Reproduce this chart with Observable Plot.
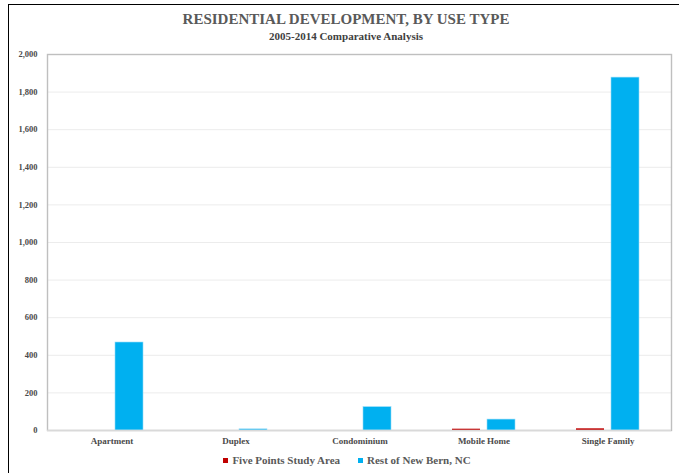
<!DOCTYPE html>
<html>
<head>
<meta charset="utf-8">
<script src="https://cdn.jsdelivr.net/npm/d3@7"></script>
<script src="https://cdn.jsdelivr.net/npm/@observablehq/plot@0.6"></script>
<style>
  html, body { margin: 0; padding: 0; background: #fff; overflow: hidden; }
  body { width: 679px; height: 473px; position: relative; font-family: "Liberation Serif", "Times New Roman", serif; }
  #box { position: absolute; left: 8px; top: 4px; width: 720px; height: 520px; border: 1.5px solid #000; }
  #title { position: absolute; left: 0; top: 11px; width: 692px; text-align: center; font-weight: bold; font-size: 15px; color: #595959; line-height: 17px; }
  #subtitle { position: absolute; left: 0; top: 30px; width: 692px; text-align: center; font-weight: bold; font-size: 11px; color: #404040; line-height: 13px; }
  #chart { position: absolute; left: 0; top: 44px; }
  #legend { position: absolute; left: 0; top: 454px; width: 694px; display: flex; justify-content: center; font-weight: bold; font-size: 11px; color: #595959; line-height: 13px; }
  #legend .item { display: inline-flex; align-items: center; margin: 0 9px; }
  #legend .sw { width: 5px; height: 5px; margin-right: 4px; display: inline-block; }
</style>
</head>
<body>
<div id="box"></div>
<div id="title"></div>
<div id="subtitle"></div>
<div id="chart"></div>
<div id="legend"></div>
<script>
const titleText = "RESIDENTIAL DEVELOPMENT, BY USE TYPE";
const subtitleText = "2005-2014 Comparative Analysis";
const categories = ["Apartment", "Duplex", "Condominium", "Mobile Home", "Single Family"];
const series = ["Five Points Study Area", "Rest of New Bern, NC"];
const seriesColors = ["#C00000", "#00B0F0"];
const fivePoints = [0, 0, 0, 7, 9];
const restOfNewBern = [468, 6, 124, 58, 1877];
const yTicks = [0, 200, 400, 600, 800, 1000, 1200, 1400, 1600, 1800, 2000];

document.getElementById("title").textContent = titleText;
document.getElementById("subtitle").textContent = subtitleText;

const rowsA = categories.map((c, i) => ({category: c, series: series[0], value: fivePoints[i]}));
const rowsB = categories.map((c, i) => ({category: c, series: series[1], value: restOfNewBern[i]}));

const chart = Plot.plot({
  width: 679,
  height: 406,
  marginTop: 10,
  marginLeft: 47,
  marginRight: 8,
  marginBottom: 20,
  style: {fontFamily: "Liberation Serif, Times New Roman, serif", fontWeight: "bold", fontSize: "8.5px", color: "#4a4a4a", background: "transparent"},
  x: {domain: categories, paddingInner: 0.495, paddingOuter: 0.2476, label: null, tickSize: 0, tickPadding: 7},
  y: {domain: [0, 2000], ticks: yTicks, tickFormat: d3.format(","), tickSize: 0, tickPadding: 10, label: null},
  color: {domain: series, range: seriesColors},
  marks: [
    Plot.ruleY(yTicks.filter(d => d > 0 && d < 2000), {stroke: "#ececec", strokeWidth: 1}),
    Plot.frame({stroke: "#bfbfbf", strokeWidth: 1.4}),
    Plot.barY(rowsA, {x: "category", y: "value", fill: "series", insetRight: 35}),
    Plot.barY(rowsB, {x: "category", y: "value", fill: "series", insetLeft: 35, stroke: "#8fdaf8", strokeWidth: 0.6}),
    Plot.ruleY([0], {stroke: "#d9d9d9", strokeWidth: 1.5}),
    Plot.axisX({tickSize: 0, tickPadding: 7, fontSize: 9, style: {letterSpacing: "0.5px"}}),
    Plot.axisY({ticks: yTicks, tickFormat: d3.format(","), tickSize: 0, tickPadding: 10})
  ]
});
document.getElementById("chart").appendChild(chart);

const legend = document.getElementById("legend");
series.forEach((s, i) => {
  const item = document.createElement("span");
  item.className = "item";
  const sw = document.createElement("span");
  sw.className = "sw";
  sw.style.background = seriesColors[i];
  item.appendChild(sw);
  item.appendChild(document.createTextNode(s));
  legend.appendChild(item);
});
</script>
</body>
</html>
